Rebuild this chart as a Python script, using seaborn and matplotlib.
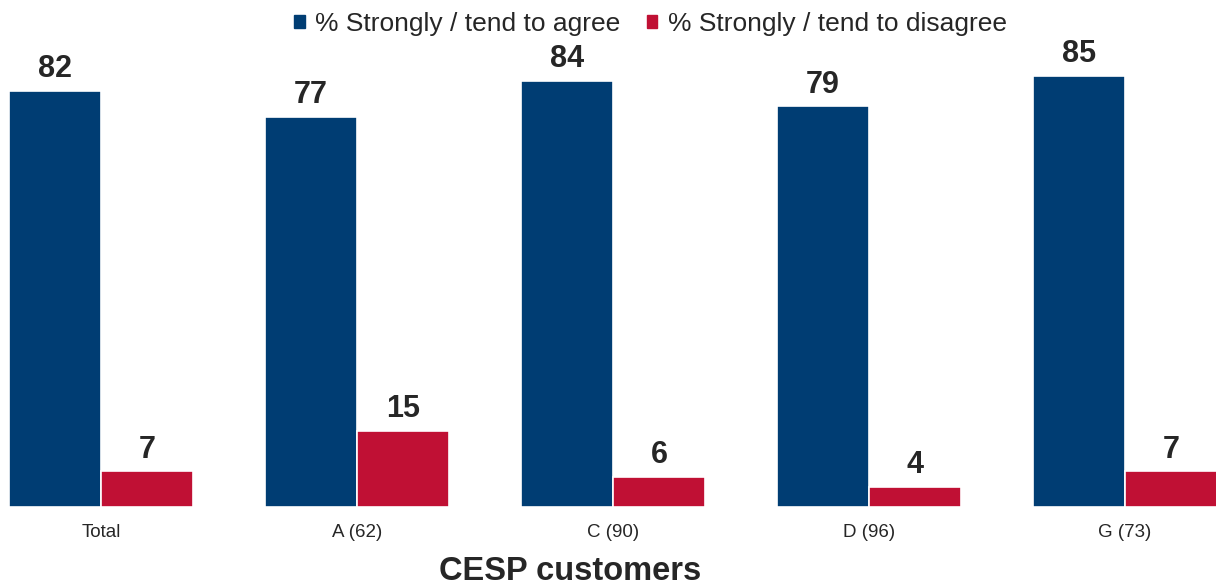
import matplotlib
matplotlib.use("Agg")
import matplotlib.pyplot as plt
import pandas as pd
import seaborn as sns

groups = ["Total", "A (62)", "C (90)", "D (96)", "G (73)"]
agree = [82, 77, 84, 79, 85]
disagree = [7, 15, 6, 4, 7]
series_names = ["% Strongly / tend to agree", "% Strongly / tend to disagree"]
colors = ["#003D73", "#C01034"]

df = pd.DataFrame({
    "group": groups * 2,
    "value": agree + disagree,
    "series": [series_names[0]] * len(groups) + [series_names[1]] * len(groups),
})

sns.set_theme(style="white")
plt.rcParams["font.family"] = ["Liberation Sans", "DejaVu Sans"]

fig = plt.figure(figsize=(12.16, 5.88), dpi=100)
ax = fig.add_axes([0.0, 0.1378, 1.0, 0.8622])

sns.barplot(data=df, x="group", y="value", hue="series", palette=colors,
            width=0.72, edgecolor="white", linewidth=1.2, ax=ax, saturation=1)

for cont in ax.containers:
    ax.bar_label(cont, fmt="%d", padding=5, fontsize=22, fontweight="bold",
                 color="#262626")

ax.set_xlim(-0.395, 4.355)
ax.set_ylim(0, 100)
ax.set_yticks([])
ax.set_ylabel("")
for s in ax.spines.values():
    s.set_visible(False)
ax.tick_params(axis="x", length=0, pad=12, labelsize=13.5, labelcolor="#262626")

ax.set_xlabel("CESP customers", fontsize=23.5, fontweight="bold", color="#262626")
ax.xaxis.set_label_coords(0.469, -0.128)
ax.xaxis.label.set_va("center")

ax.legend_.remove()
handles = [plt.Rectangle((0, 0), 1, 1, color=c) for c in colors]
fig.legend(handles, series_names, loc="upper center", bbox_to_anchor=(0.535, 1.02),
           ncol=2, frameon=False, fontsize=19, handlelength=0.4, handleheight=0.4,
           handletextpad=0.4, columnspacing=1.0, labelcolor="#262626")

fig.savefig("out.png", dpi=100)
